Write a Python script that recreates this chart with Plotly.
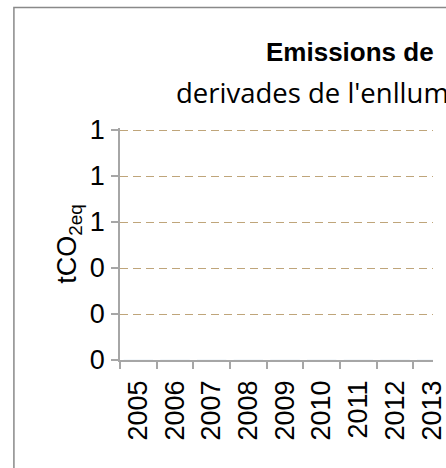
import plotly.graph_objects as go

years = [str(y) for y in range(2005, 2016)]
emissions = [0] * len(years)
y_tickvals = [0, 0.2, 0.4, 0.6, 0.8, 1.0]
y_ticktext = ["0", "0", "0", "1", "1", "1"]
title_text = "Emissions de"
subtitle_text = "derivades de l'enllumenat"
y_title = "tCO<sub>2eq</sub>"

W, H = 446, 468
L, T, R_, B = 120, 128, 0, 108
pw, ph = W - L - R_, H - T - B
y_top = ph / 230.0

def px_x(x):
    return (x - L) / pw

def px_y(y):
    return (H - B - y) / ph

fig = go.Figure()
fig.add_trace(go.Bar(x=years, y=emissions, marker_color="#4F81BD", showlegend=False))

fig.update_layout(
    width=W, height=H,
    margin=dict(l=L, r=R_, t=T, b=B),
    paper_bgcolor="white", plot_bgcolor="white",
    font=dict(family="Liberation Sans, Arial", size=27, color="black"),
    xaxis=dict(
        type="category", range=[-0.5, -0.5 + pw / 38.2],
        tickson="boundaries", ticks="outside", ticklen=7, tickwidth=1.5, tickcolor="#A6A6A6",
        showline=True, linecolor="#A6A6A6", linewidth=1.5,
        showgrid=False, tickangle=-90, ticklabelstandoff=8,
        tickfont=dict(size=27),
    ),
    yaxis=dict(
        range=[0, y_top], tickvals=y_tickvals, ticktext=y_ticktext,
        ticks="outside", ticklen=7, tickwidth=1.5, tickcolor="#A6A6A6",
        showline=True, linecolor="#A6A6A6", linewidth=1.5,
        showgrid=True, gridcolor="#BFA57A", gridwidth=1, griddash="8px,5px",
        zeroline=False, ticklabelstandoff=1,
        tickfont=dict(size=27),
        title=dict(text=y_title, font=dict(size=27), standoff=5),
    ),
    annotations=[
        dict(text="<b>" + title_text + "</b>", xref="paper", yref="paper",
             x=px_x(270), y=px_y(52), xanchor="left", yanchor="middle",
             showarrow=False, font=dict(family="Liberation Sans, Arial", size=26)),
        dict(text=subtitle_text, xref="paper", yref="paper",
             x=px_x(176), y=px_y(92), xanchor="left", yanchor="middle",
             showarrow=False, font=dict(family="Open Sans", size=27.5)),
    ],
    shapes=[
        dict(type="rect", xref="paper", yref="paper",
             x0=px_x(9.5), x1=px_x(470), y0=px_y(500), y1=px_y(7.5),
             line=dict(color="#898989", width=1.5), layer="below"),
    ],
)

fig.write_html("out.html", config={"displayModeBar": False},
               post_script="document.body.style.margin='0';")
